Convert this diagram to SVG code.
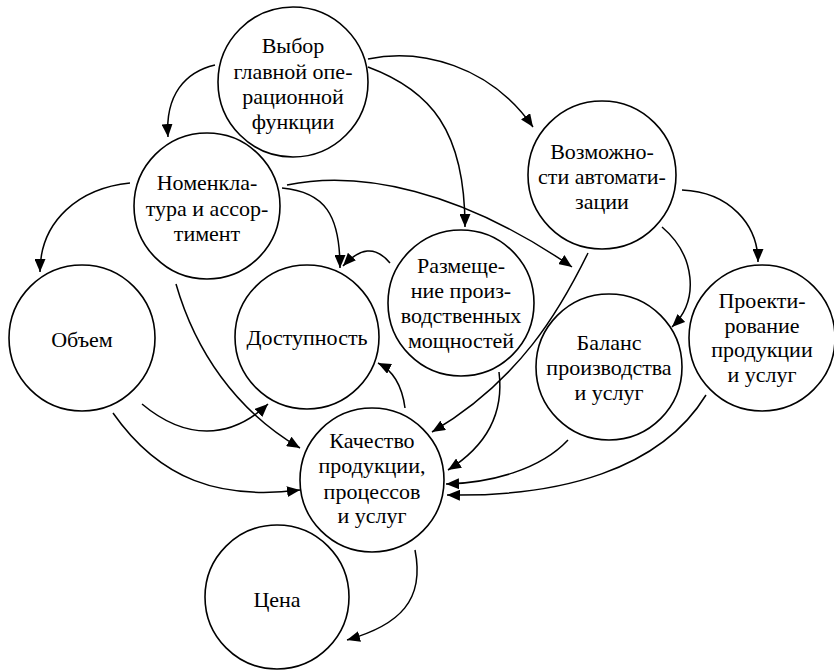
<svg xmlns="http://www.w3.org/2000/svg" width="834" height="670" viewBox="0 0 834 670">
<defs>
<marker id="ah" markerUnits="userSpaceOnUse" markerWidth="13" markerHeight="11" refX="13" refY="5.5" orient="auto"><path d="M0,0 L13,5.5 L0,11 z" fill="#000"/></marker>
<style>
.n{fill:#fff;stroke:#000;stroke-width:1.6}
.c{fill:none;stroke:#000;stroke-width:1.5;marker-end:url(#ah)}
</style>
</defs>
<rect width="834" height="670" fill="#fff"/>
<g id="connectors">
<path class="c" d="M215,65 C185,72 165,95 168,137"/>
<path class="c" d="M368,59 C420,48 490,65 533,127"/>
<path class="c" d="M368,67 C430,90 465,130 465,227"/>
<path class="c" d="M130,183 C80,188 40,220 40,272"/>
<path class="c" d="M282,188 C325,192 340,215 340,268"/>
<path class="c" d="M390,263 C375,245 360,248 343,266"/>
<path class="c" d="M287,185 C360,170 460,190 572,267"/>
<path class="c" d="M588,253 C560,310 520,380 432,432"/>
<path class="c" d="M662,227 C695,255 700,300 672,327"/>
<path class="c" d="M682,190 C730,192 758,225 758,262"/>
<path class="c" d="M176,284 C195,350 235,410 300,448"/>
<path class="c" d="M142,404 C185,440 230,440 268,404"/>
<path class="c" d="M113,413 C160,480 220,500 300,490"/>
<path class="c" d="M405,408 C402,385 392,370 378,363"/>
<path class="c" d="M499,372 C505,420 480,450 448,470"/>
<path class="c" d="M568,440 C540,470 490,483 446,484"/>
<path class="c" d="M706,395 C660,470 560,497 447,495"/>
<path class="c" d="M415,550 C425,600 400,625 347,640"/>
</g>
<g id="vybor"><circle class="n" cx="293" cy="82" r="75"/><text font-family="Liberation Serif" font-size="22" text-anchor="middle" x="293" y="53">Выбор</text><text font-family="Liberation Serif" font-size="22" text-anchor="middle" x="293" y="79">главной опе-</text><text font-family="Liberation Serif" font-size="22" text-anchor="middle" x="293" y="104">рационной</text><text font-family="Liberation Serif" font-size="22" text-anchor="middle" x="293" y="129">функции</text></g>
<g id="nomenklatura"><circle class="n" cx="207" cy="206" r="73"/><text font-family="Liberation Serif" font-size="22" text-anchor="middle" x="207" y="190">Номенкла-</text><text font-family="Liberation Serif" font-size="22" text-anchor="middle" x="207" y="216">тура и ассор-</text><text font-family="Liberation Serif" font-size="22" text-anchor="middle" x="207" y="241">тимент</text></g>
<g id="vozmozhnosti"><circle class="n" cx="602" cy="175" r="74"/><text font-family="Liberation Serif" font-size="22" text-anchor="middle" x="602" y="159">Возможно-</text><text font-family="Liberation Serif" font-size="22" text-anchor="middle" x="602" y="184">сти автомати-</text><text font-family="Liberation Serif" font-size="22" text-anchor="middle" x="602" y="209">зации</text></g>
<g id="obyem"><circle class="n" cx="82" cy="338" r="73"/><text font-family="Liberation Serif" font-size="22" text-anchor="middle" x="82" y="347">Объем</text></g>
<g id="dostupnost"><circle class="n" cx="307" cy="337" r="72"/><text font-family="Liberation Serif" font-size="22" text-anchor="middle" x="307" y="345">Доступность</text></g>
<g id="razmeshchenie"><circle class="n" cx="461" cy="303" r="73"/><text font-family="Liberation Serif" font-size="22" text-anchor="middle" x="461" y="273">Размеще-</text><text font-family="Liberation Serif" font-size="22" text-anchor="middle" x="461" y="298">ние произ-</text><text font-family="Liberation Serif" font-size="22" text-anchor="middle" x="461" y="323">водственных</text><text font-family="Liberation Serif" font-size="22" text-anchor="middle" x="461" y="348">мощностей</text></g>
<g id="balans"><circle class="n" cx="609" cy="367" r="73"/><text font-family="Liberation Serif" font-size="22" text-anchor="middle" x="609" y="350">Баланс</text><text font-family="Liberation Serif" font-size="22" text-anchor="middle" x="609" y="375">производства</text><text font-family="Liberation Serif" font-size="22" text-anchor="middle" x="609" y="400">и услуг</text></g>
<g id="proektirovanie"><circle class="n" cx="762" cy="338" r="73"/><text font-family="Liberation Serif" font-size="22" text-anchor="middle" x="762" y="308">Проекти-</text><text font-family="Liberation Serif" font-size="22" text-anchor="middle" x="762" y="333">рование</text><text font-family="Liberation Serif" font-size="22" text-anchor="middle" x="762" y="357">продукции</text><text font-family="Liberation Serif" font-size="22" text-anchor="middle" x="762" y="382">и услуг</text></g>
<g id="kachestvo"><circle class="n" cx="372" cy="480" r="72"/><text font-family="Liberation Serif" font-size="22" text-anchor="middle" x="372" y="448">Качество</text><text font-family="Liberation Serif" font-size="22" text-anchor="middle" x="372" y="473">продукции,</text><text font-family="Liberation Serif" font-size="22" text-anchor="middle" x="372" y="499">процессов</text><text font-family="Liberation Serif" font-size="22" text-anchor="middle" x="372" y="523">и услуг</text></g>
<g id="tsena"><circle class="n" cx="277" cy="597" r="72"/><text font-family="Liberation Serif" font-size="22" text-anchor="middle" x="277" y="607">Цена</text></g>
</svg>
